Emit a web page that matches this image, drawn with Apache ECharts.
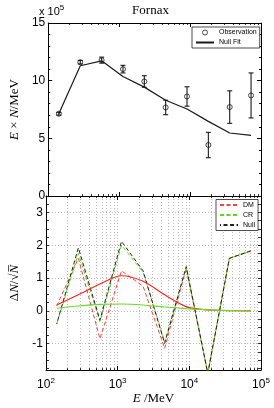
<!DOCTYPE html>
<html><head><meta charset="utf-8">
<script src="https://cdn.jsdelivr.net/npm/echarts@6/dist/echarts.min.js"></script>
<style>html,body{margin:0;padding:0;background:#fff}#c{width:274px;height:408px}</style>
</head><body><div id="c"></div>
<script>
// ---- data ----
const energy = [141, 283, 566, 1131, 2263, 4525, 9051, 18102, 36204, 72408];
const observation = [7.13, 11.6, 11.78, 11.0, 9.93, 7.68, 8.63, 4.42, 7.71, 8.72];
const observationErr = [0.12, 0.15, 0.26, 0.33, 0.5, 0.63, 0.84, 1.1, 1.41, 1.95];
const nullFit = [7.13, 11.29, 11.72, 10.36, 9.44, 8.3, 7.54, 6.47, 5.46, 5.26];
const residualDM = [0.15, 1.6, -0.85, 1.22, 0.75, -1.14, 1.3, -1.9, 1.6, 1.83];
const residualCR = [-0.4, 1.75, -0.33, 2.0, 1.18, -0.94, 1.32, -1.9, 1.6, 1.83];
const residualNull = [-0.4, 1.92, -0.28, 2.12, 1.22, -0.99, 1.35, -1.9, 1.6, 1.83];
const modelDM = [0.18, 0.49, 0.82, 1.07, 0.9, 0.49, 0.13, 0.03, 0.01, 0.0];
const modelCR = [0.08, 0.15, 0.2, 0.21, 0.18, 0.12, 0.07, 0.03, 0.01, 0.0];
const xTickExponents = [2, 3, 4, 5];
const topYTicks = [0, 5, 10, 15];
const bottomYTicks = [-1, 0, 1, 2, 3];

const pairs = arr => energy.map((e, i) => [e, arr[i]]);
const minorXValues = [];
for (let d = 2; d < 5; d++) for (let k = 2; k <= 9; k++) minorXValues.push(d + Math.log10(k));
const quarterY = [];
for (let v = -1.75; v <= 3.5; v += 0.25) quarterY.push(+v.toFixed(2));

const SANS = 'Liberation Sans';
const SERIF = 'Liberation Serif';
const axisLine = { show: true, onZero: false, lineStyle: { color: '#000', width: 1 } };
const majorTick = { show: true, inside: true, length: 4, lineStyle: { color: '#000', width: 1 } };
const minorTick = { show: true, inside: true, length: 2, lineStyle: { color: '#000', width: 0.8 } };
const dotted = { show: true, lineStyle: { color: '#a8a8a8', width: 0.8, type: [1, 2] } };

function logX(grid, pos, withLabels, split) {
  return {
    type: 'log', logBase: 10, gridIndex: grid, position: pos, min: 100, max: 100000,
    axisLine, axisTick: majorTick, minorTick: { show: false },
    splitLine: split ? dotted : { show: false },
    axisLabel: withLabels ? {
      show: true, margin: 7, color: '#000', fontFamily: SANS, fontSize: 12,
      formatter: v => '{b|10}{s|' + xTickExponents[Math.round(Math.log10(v)) - 2] + '}',
      rich: { b: { fontSize: 12, fontFamily: SANS, color: '#000' },
              s: { fontSize: 8, fontFamily: SANS, color: '#000', padding: [0, 0, 8, 0] } }
    } : { show: false },
    name: withLabels ? '{i|E}{r| /MeV}' : '', nameLocation: 'middle', nameGap: 22,
    nameTextStyle: { rich: { i: { fontFamily: SERIF, fontStyle: 'italic', fontSize: 13, color: '#000' },
                             r: { fontFamily: SERIF, fontSize: 13, color: '#000' } } }
  };
}
function minorX(grid, pos, split) {
  return {
    type: 'value', gridIndex: grid, position: pos, min: 2, max: 5,
    axisLine: { show: false, onZero: false },
    axisTick: Object.assign({}, minorTick, { customValues: minorXValues }),
    axisLabel: { show: false }, splitLine: split ? dotted : { show: false }
  };
}
const noSym = { opacity: 0 };

const option = {
  animation: false,
  backgroundColor: '#fff',
  grid: [
    { left: 40, right: 13, top: 23, height: 173 },
    { left: 40, right: 13, top: 196, height: 174 }
  ],
  graphic: [
    { type: 'text', x: 150.5, y: 4, style: { text: 'Fornax', font: '13px "Liberation Serif"', fill: '#000', align: 'center', verticalAlign: 'top' } },
    { type: 'text', x: 39, y: 4, style: { text: '{a|x 10}{s|5}', fill: '#000',
        rich: { a: { fontSize: 11, fontFamily: SANS, color: '#000' }, s: { fontSize: 8, fontFamily: SANS, color: '#000', padding: [0, 0, 8, 0] } } } }
  ],
  xAxis: [
    logX(0, 'bottom', false, false), minorX(0, 'bottom', false),
    logX(0, 'top', false, false), minorX(0, 'top', false),
    logX(1, 'bottom', true, true), minorX(1, 'bottom', true),
    logX(1, 'top', false, false), minorX(1, 'top', false)
  ],
  yAxis: [
    { type: 'value', gridIndex: 0, position: 'left', min: 0, max: 15, interval: 5,
      axisLine, axisTick: majorTick, minorTick: { show: true, splitNumber: 5, length: 2, lineStyle: { color: '#000' } },
      splitLine: { show: false },
      axisLabel: { margin: 3, color: '#000', fontFamily: SANS, fontSize: 12, customValues: topYTicks },
      name: '{i|E}{r| × }{i|N}{r|/MeV}', nameLocation: 'middle', nameGap: 25, nameRotate: 90,
      nameTextStyle: { rich: { i: { fontFamily: SERIF, fontStyle: 'italic', fontSize: 13, color: '#000' },
                               r: { fontFamily: SERIF, fontSize: 13, color: '#000' } } } },
    { type: 'value', gridIndex: 0, position: 'right', min: 0, max: 15, interval: 5,
      axisLine, axisTick: majorTick, minorTick: { show: true, splitNumber: 5, length: 2, lineStyle: { color: '#000' } },
      splitLine: { show: false }, axisLabel: { show: false } },
    { type: 'value', gridIndex: 1, position: 'left', min: -1.8, max: 3.5,
      axisLine, axisTick: Object.assign({}, minorTick, { length: 3, customValues: quarterY }),
      splitLine: { show: false },
      axisLabel: { margin: 3, color: '#000', fontFamily: SANS, fontSize: 12, customValues: bottomYTicks },
      name: '{r|Δ}{i|N}{r|/√}{i|N̅}', nameLocation: 'middle', nameGap: 25, nameRotate: 90,
      nameTextStyle: { rich: { i: { fontFamily: SERIF, fontStyle: 'italic', fontSize: 13, color: '#000' },
                               r: { fontFamily: SERIF, fontSize: 13, color: '#000' } } } },
    { type: 'value', gridIndex: 1, position: 'right', min: -1.8, max: 3.5,
      axisLine, axisTick: Object.assign({}, minorTick, { length: 3, customValues: quarterY }),
      splitLine: { show: false }, axisLabel: { show: false } },
    { type: 'value', gridIndex: 1, position: 'left', min: -1.8, max: 3.5,
      axisLine: { show: false, onZero: false }, axisTick: { show: false, customValues: bottomYTicks },
      splitLine: dotted, axisLabel: { show: false } }
  ],
  legend: [
    { data: [{ name: 'Observation', itemStyle: { borderWidth: 1 } }, { name: 'Null Fit', itemStyle: noSym }],
      orient: 'vertical', left: 192, top: 27,
      itemWidth: 18, itemHeight: 5, itemGap: 3, padding: [2, 3, 2, 3], selectedMode: false,
      borderColor: '#000', borderWidth: 0.7, backgroundColor: '#fff',
      textStyle: { fontSize: 7, fontFamily: SANS, color: '#000' } },
    { data: [{ name: 'DM', itemStyle: noSym }, { name: 'CR', itemStyle: noSym }, { name: 'Null', itemStyle: noSym }],
      orient: 'vertical', left: 216, top: 199.5,
      itemWidth: 18, itemHeight: 6, itemGap: 3, padding: [2, 3, 2, 3], selectedMode: false,
      borderColor: '#000', borderWidth: 0.7, backgroundColor: '#fff',
      textStyle: { fontSize: 7, fontFamily: SANS, color: '#000' } }
  ],
  series: [
    { name: 'Null Fit', type: 'line', xAxisIndex: 0, yAxisIndex: 0, data: pairs(nullFit),
      symbol: 'none', lineStyle: { color: '#1a1a1a', width: 1.2 }, itemStyle: { color: '#1a1a1a' } },
    { name: 'ObsErr', type: 'custom', xAxisIndex: 0, yAxisIndex: 0,
      data: energy.map((e, i) => [e, observation[i] - observationErr[i], observation[i] + observationErr[i]]),
      encode: { x: 0, y: [1, 2] },
      renderItem: (params, api) => {
        const lo = api.coord([api.value(0), api.value(1)]);
        const hi = api.coord([api.value(0), api.value(2)]);
        const w = 2.5, style = { stroke: '#1a1a1a', lineWidth: 1.1 };
        return { type: 'group', children: [
          { type: 'line', shape: { x1: lo[0], y1: lo[1], x2: hi[0], y2: hi[1] }, style },
          { type: 'line', shape: { x1: lo[0] - w, y1: lo[1], x2: lo[0] + w, y2: lo[1] }, style },
          { type: 'line', shape: { x1: hi[0] - w, y1: hi[1], x2: hi[0] + w, y2: hi[1] }, style }
        ] };
      } },
    { name: 'Observation', type: 'scatter', xAxisIndex: 0, yAxisIndex: 0, data: pairs(observation),
      symbol: 'circle', symbolSize: 5,
      itemStyle: { color: 'rgba(0,0,0,0)', borderColor: '#1a1a1a', borderWidth: 1 } },

    { name: 'DM', type: 'line', xAxisIndex: 4, yAxisIndex: 2, data: pairs(residualDM),
      symbol: 'none', lineStyle: { color: '#ff4040', width: 1, type: [4, 2.5] }, itemStyle: { color: '#ff4040' } },
    { name: 'CR', type: 'line', xAxisIndex: 4, yAxisIndex: 2, data: pairs(residualCR),
      symbol: 'none', lineStyle: { color: '#55dd11', width: 1, type: [4, 2.5] }, itemStyle: { color: '#55dd11' } },
    { name: 'Null', type: 'line', xAxisIndex: 4, yAxisIndex: 2, data: pairs(residualNull),
      symbol: 'none', lineStyle: { color: '#222', width: 1, type: [4, 2.5], dashOffset: 3 }, itemStyle: { color: '#222' } },
    { name: 'DM model', type: 'line', xAxisIndex: 4, yAxisIndex: 2, data: pairs(modelDM),
      symbol: 'none', smooth: 0.3, lineStyle: { color: '#ff2020', width: 1.1 } },
    { name: 'CR model', type: 'line', xAxisIndex: 4, yAxisIndex: 2, data: pairs(modelCR),
      symbol: 'none', smooth: 0.3, lineStyle: { color: '#66dd22', width: 1.1 } }
  ]
};
const chart = echarts.init(document.getElementById('c'), null, { renderer: 'canvas' });
chart.setOption(option);
</script></body></html>
